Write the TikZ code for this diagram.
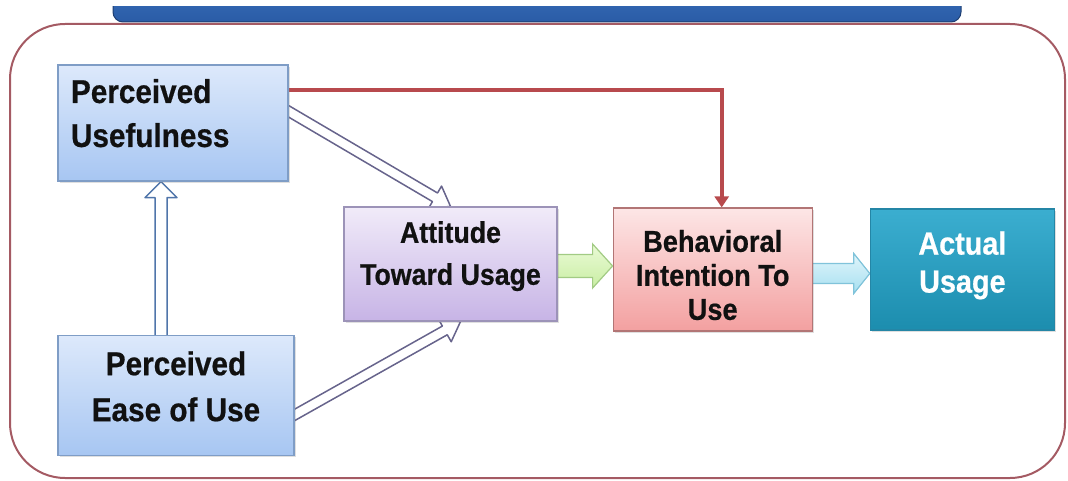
\documentclass[tikz,border=0pt]{standalone}
\usepackage{fontspec}
\setmainfont{Liberation Sans}[FakeStretch=0.9, FakeBold=0.6]
\usetikzlibrary{calc, shadows, arrows.meta, positioning}
\pgfdeclarelayer{back}
\pgfsetlayers{back,main}
\definecolor{bluetop}{HTML}{DDE9FB}
\definecolor{bluebot}{HTML}{A7C6F2}
\definecolor{blueline}{HTML}{7F9DC6}
\definecolor{lilactop}{HTML}{F1EBF9}
\definecolor{lilacbot}{HTML}{C7B4E6}
\definecolor{lilacline}{HTML}{9C93B8}
\definecolor{pinktop}{HTML}{FDE6E6}
\definecolor{pinkbot}{HTML}{F3A0A0}
\definecolor{pinkline}{HTML}{B27575}
\definecolor{tealtop}{HTML}{3BAED0}
\definecolor{tealbot}{HTML}{1C8DAE}
\definecolor{tealline}{HTML}{2486A6}
\definecolor{framered}{HTML}{A45A63}
\definecolor{linkred}{HTML}{B84A4D}
\definecolor{hollowline}{HTML}{67648C}
\definecolor{upline}{HTML}{5075AA}
\definecolor{greentop}{HTML}{EAFAD6}
\definecolor{greenbot}{HTML}{C9EEA3}
\definecolor{greenline}{HTML}{A2CB84}
\definecolor{cyantop}{HTML}{E0F5FB}
\definecolor{cyanbot}{HTML}{A6DFF0}
\definecolor{cyanline}{HTML}{80C3DA}
\definecolor{bannertop}{HTML}{3A70BC}
\definecolor{bannerbot}{HTML}{2A5CA6}
\definecolor{bannerline}{HTML}{1E3F72}
\definecolor{ink}{HTML}{111111}
\tikzstyle{box} = [rectangle, draw, line width=1.2pt, inner sep=0pt, text=ink, drop shadow={shadow xshift=2pt, shadow yshift=-2pt, opacity=0.25}]
\tikzstyle{bluebox} = [box, draw=blueline, top color=bluetop, bottom color=bluebot]
\tikzstyle{lilacbox} = [box, draw=lilacline, top color=lilactop, bottom color=lilacbot]
\tikzstyle{pinkbox} = [box, draw=pinkline, top color=pinktop, bottom color=pinkbot]
\tikzstyle{tealbox} = [box, draw=tealline, top color=tealtop, bottom color=tealbot, text=white]
\tikzstyle{link} = [draw=linkred, line width=4pt, -{Triangle[length=11pt,width=14pt]}]
\tikzstyle{hollow} = [draw=hollowline, fill=white, line width=1.5pt, line join=round]
% fat arrow: style, from, to, half shaft, half head, head length
\newcommand{\fatarrow}[6][]{%
  \draw[#1] ($(#2)!#4!90:(#3)$) -- ($($(#3)!#6!(#2)$)!#4!-90:(#2)$) -- ($($(#3)!#6!(#2)$)!#5!-90:(#2)$) -- (#3)
    -- ($($(#3)!#6!(#2)$)!#5!90:(#2)$) -- ($($(#3)!#6!(#2)$)!#4!90:(#2)$) -- ($(#2)!#4!-90:(#3)$) -- cycle;}

\begin{document}
\begin{tikzpicture}[x=1pt, y=-1pt]
\useasboundingbox (0,0) rectangle (1068,481);
% banner and frame
\begin{scope}
  \clip (0,7) rectangle (1068,40);
  \draw[bannerline, line width=1pt, top color=bannertop, bottom color=bannerbot, rounded corners=10pt] (113,-20) rectangle (961,22);
\end{scope}
\draw[framered, line width=2pt, rounded corners=55pt] (10,24) rectangle (1065,478);

% boxes
\node[bluebox, minimum height=116pt, text width=204pt, inner xsep=13pt, align=left, font=\fontsize{33}{44}\selectfont\bfseries] (pu) at (173,123) {Perceived\\Usefulness\rule[-20pt]{0pt}{20pt}};
\node[bluebox, below=153pt of pu, xshift=3pt, minimum width=236pt, minimum height=120pt, align=center, font=\fontsize{33}{46}\selectfont\bfseries] (peu) {Perceived\\Ease of Use\rule[-18pt]{0pt}{18pt}};
\node[lilacbox, minimum width=213pt, minimum height=114pt, align=center, font=\fontsize{29.7}{42}\selectfont\bfseries] (atu) at (450.5,264) {Attitude\\Toward Usage\rule[-22pt]{0pt}{22pt}};
\node[pinkbox, right=55pt of atu, yshift=-5.5pt, minimum width=199pt, minimum height=123pt, align=center, font=\fontsize{30.2}{34}\selectfont\bfseries] (bi) {\rule{0pt}{33pt}Behavioral\\Intention To\\Use};
\node[tealbox, right=57pt of bi, minimum width=184pt, minimum height=121pt, align=center, font=\fontsize{32}{38}\selectfont\bfseries] (au) {Actual\\Usage\rule[-15pt]{0pt}{15pt}};

% connectors
\coordinate (pu-link) at ($(pu.north east)!0.22!(pu.south east)$);
\coordinate (pu-out) at ([xshift=-8pt]$(pu.north east)!0.36!(pu.south east)$);
\coordinate (peu-out) at ([xshift=-8pt]$(peu.north east)!0.7!(peu.south east)$);
\coordinate (peu-up) at ([xshift=-15pt, yshift=-6pt]peu.north);
\coordinate (atu-out) at ([yshift=-2pt, xshift=-4pt]atu.east);
\coordinate (bi-out) at ([yshift=-4pt, xshift=-4pt]bi.east);
\begin{pgfonlayer}{back}
\draw[link] (pu-link) -| ([xshift=9pt]bi.north);
\fatarrow[hollow]{pu-out}{atu.north}{5pt}{13pt}{18pt}
\fatarrow[hollow]{peu-out}{[xshift=10pt]atu.south}{5pt}{13pt}{18pt}
\fatarrow[hollow, draw=upline]{peu-up}{peu-up |- pu.south}{6pt}{16pt}{16pt}
\fatarrow[draw=greenline, line width=1.2pt, top color=greentop, bottom color=greenbot]{atu-out}{atu-out -| bi.west}{11.5pt}{22pt}{20pt}
\fatarrow[draw=cyanline, line width=1.2pt, top color=cyantop, bottom color=cyanbot]{bi-out}{bi-out -| au.west}{10pt}{20pt}{16pt}
\end{pgfonlayer}
\end{tikzpicture}
\end{document}
